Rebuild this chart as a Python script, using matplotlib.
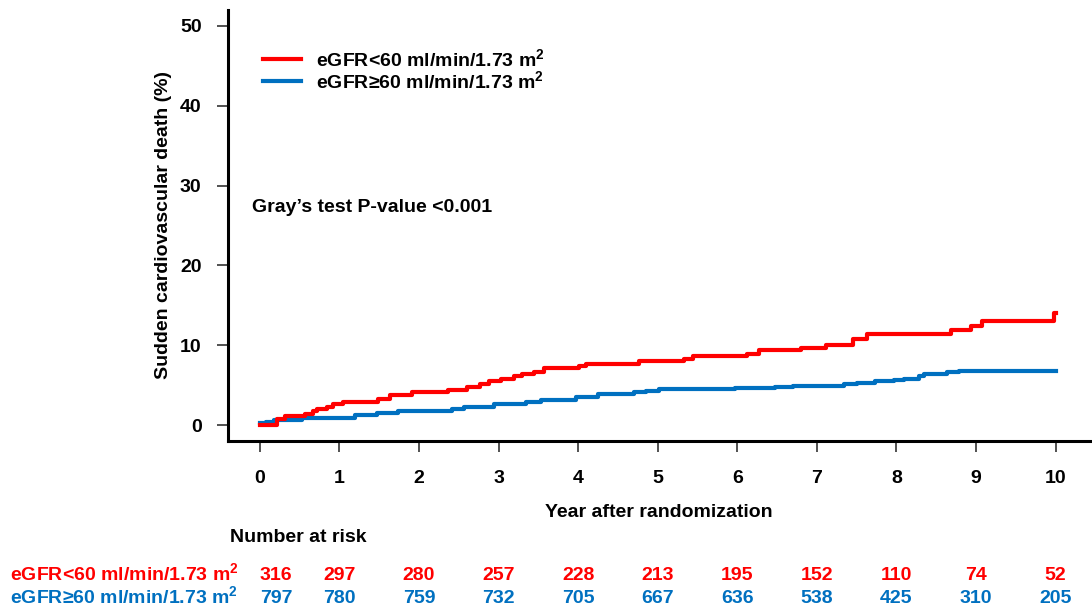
import matplotlib
matplotlib.use("Agg")
import matplotlib.pyplot as plt

# cumulative incidence curves (step functions)
red_t = [0, 0.21, 0.32, 0.57, 0.67, 0.72, 0.84, 0.92, 1.05, 1.49, 1.64, 1.91,
         2.37, 2.60, 2.77, 2.88, 3.03, 3.20, 3.30, 3.44, 3.57, 4.01, 4.10, 4.76,
         5.33, 5.44, 6.12, 6.27, 6.80, 7.11, 7.45, 7.63, 8.69, 8.94, 9.07, 9.98, 10.0]
red_y = [0, 0.75, 1.1, 1.4, 1.7, 2.0, 2.3, 2.6, 2.9, 3.3, 3.8, 4.1,
         4.4, 4.8, 5.1, 5.5, 5.8, 6.1, 6.4, 6.7, 7.1, 7.4, 7.7, 8.0,
         8.3, 8.6, 8.9, 9.4, 9.7, 10.0, 10.8, 11.4, 11.9, 12.4, 13.0, 14.0, 14.0]
blue_t = [0, 0.08, 0.18, 0.53, 1.20, 1.47, 1.74, 1.99, 2.42, 2.56, 2.94, 3.34,
          3.53, 3.97, 4.25, 4.70, 4.85, 5.02, 5.97, 6.47, 6.70, 7.34, 7.50, 7.73,
          7.97, 8.09, 8.28, 8.34, 8.64, 8.79, 10.0]
blue_y = [0.2, 0.4, 0.6, 0.9, 1.2, 1.5, 1.7, 1.8, 2.0, 2.3, 2.6, 2.9,
          3.1, 3.5, 3.9, 4.1, 4.3, 4.5, 4.6, 4.8, 4.9, 5.1, 5.3, 5.5,
          5.6, 5.8, 6.1, 6.4, 6.6, 6.8, 6.8]

years = list(range(11))
risk_red = [316, 297, 280, 257, 228, 213, 195, 152, 110, 74, 52]
risk_blue = [797, 780, 759, 732, 705, 667, 636, 538, 425, 310, 205]

label_red = "eGFR<60 ml/min/1.73 m$^{2}$"
label_blue = "eGFR≥60 ml/min/1.73 m$^{2}$"
RED = "#FF0000"
BLUE = "#0070C0"

plt.rcParams["font.family"] = ["Liberation Sans", "DejaVu Sans"]
plt.rcParams["font.weight"] = "bold"
plt.rcParams["mathtext.fontset"] = "custom"
plt.rcParams["mathtext.rm"] = "Liberation Sans:bold"
plt.rcParams["mathtext.it"] = "Liberation Sans:bold"
plt.rcParams["mathtext.bf"] = "Liberation Sans:bold"
FS = 14

fig = plt.figure(figsize=(10.92, 6.08), dpi=100)
ax = fig.add_axes([0.2088, 0.2747, 0.7892, 0.7089])

ax.plot(blue_t, blue_y, drawstyle="steps-post", color=BLUE, lw=3, label=label_blue, zorder=2)
ax.plot(red_t, red_y, drawstyle="steps-post", color=RED, lw=3, label=label_red, zorder=3)

ax.set_xlim(-0.40, 10.43)
ax.set_ylim(-2.0, 52)
ax.set_xticks(years)
ax.set_yticks([0, 10, 20, 30, 40, 50])

for s in ["top", "right"]:
    ax.spines[s].set_visible(False)
for s in ["left", "bottom"]:
    ax.spines[s].set_linewidth(2.2)

ax.tick_params(axis="y", length=8, width=1.2, color="#333333", pad=11, labelsize=FS)
ax.tick_params(axis="x", length=8, width=1.2, color="#333333", pad=13, labelsize=FS)
for lab in ax.get_xticklabels() + ax.get_yticklabels():
    lab.set_fontweight("bold")

ax.set_xlabel("Year after randomization", fontsize=FS, fontweight="bold", labelpad=12)
ax.set_ylabel("Sudden cardiovascular death (%)", fontsize=FS, fontweight="bold", labelpad=6)

h, l = ax.get_legend_handles_labels()
ax.legend(h[::-1], l[::-1], loc="upper left", bbox_to_anchor=(0.02, 0.952), frameon=False,
          fontsize=FS, handlelength=1.95, handletextpad=0.8, labelspacing=0.0)

ax.text(-0.1, 27.3, "Gray’s test P-value <0.001", fontsize=FS, fontweight="bold",
        ha="left", va="center")

# number at risk table below the axes
trans = ax.get_xaxis_transform()
ax.text(-0.38, -0.223, "Number at risk", transform=trans, fontsize=FS, fontweight="bold",
        ha="left", va="center", clip_on=False)
for row_y, lab, vals, col in [(-0.3225, label_red, risk_red, RED),
                              (-0.376, label_blue, risk_blue, BLUE)]:
    ax.text(-0.27, row_y, lab, transform=trans, fontsize=FS, fontweight="bold",
            color=col, ha="right", va="baseline", clip_on=False)
    for i, (yr, v) in enumerate(zip(years, vals)):
        ax.text(yr, row_y, str(v), transform=trans, fontsize=FS, fontweight="bold",
                color=col, ha="left" if i == 0 else "center", va="baseline", clip_on=False)

fig.savefig("out.png", dpi=100)
